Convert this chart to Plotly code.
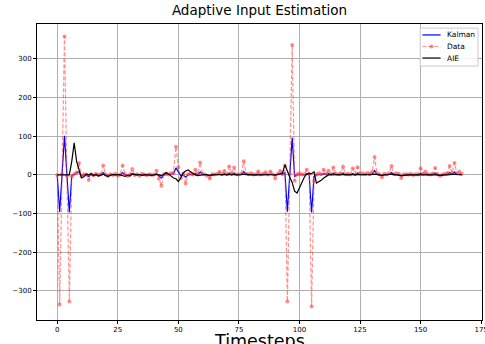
import plotly.graph_objects as go

timesteps = list(range(168))

data_vals = [
    0, -335, 3, 358, -2, -327, -4, 2, 6, 31,
    -3, 2, 1, -13, 2, -1, 3, 0, 2, 24,
    1, -3, 2, 0, 3, -2, 1, 24, 2, -3,
    1, 15, 0, 2, -2, 3, 1, -1, 2, 0,
    1, 11, -10, -28, 2, 3, 1, 4, 5, 73,
    20, -8, 3, -22, 2, 4, 1, 13, 2, 32,
    3, 1, -2, -9, 2, 1, 3, 8, 2, 10,
    2, 22, 3, 19, 2, 1, 3, 35, 3, 2,
    4, 1, 2, 9, 1, 3, 7, 1, 9, 2,
    -9, 3, 10, 2, 24, -327, 3, 336, -15, 2,
    4, 1, 2, 13, 3, -340, -16, 2, 4, 2,
    13, 3, 11, 2, 19, 3, 2, 4, 22, 2,
    3, 1, 17, 2, 20, 3, 4, 2, 5, 3,
    8, 46, 4, 2, -6, 3, 1, 4, 23, 2,
    4, 3, -8, 1, 2, 1, 3, 0, 2, 1,
    17, 3, 9, 2, 1, 3, 18, 2, -3, 1,
    3, 4, 23, 5, 31, 4, 9, 3,
]

kalman_vals = [
    0, -96, 2, 101, 0, -97, -2, 1, 3, 8,
    -1, 0, 0, -4, 1, 0, 1, 0, 0, 6,
    0, -1, 0, 0, 1, 0, 0, 6, 0, -1,
    0, 4, 0, 0, 0, 1, 0, 0, 0, 0,
    0, 3, -3, -8, 0, 1, 0, 1, 3, 18,
    8, -2, 0, -6, 0, 1, 0, 4, 0, 8,
    1, 0, 0, -2, 0, 0, 1, 2, 0, 3,
    0, 5, 1, 5, 0, 0, 1, 9, 1, 0,
    1, 0, 0, 2, 0, 1, 2, 0, 2, 0,
    -2, 1, 3, 1, 6, -95, 1, 96, -4, 0,
    1, 0, 0, 3, 1, -97, -4, 0, 1, 0,
    3, 1, 3, 0, 5, 1, 0, 1, 5, 0,
    1, 0, 4, 0, 5, 1, 1, 0, 1, 1,
    2, 11, 1, 0, -2, 1, 0, 1, 6, 0,
    1, 1, -2, 0, 0, 0, 0, 0, 0, 0,
    4, 1, 2, 0, 0, 1, 5, 0, -1, 0,
    1, 1, 6, 1, 8, 1, 2, 1,
]

aie_vals = [
    0, 0, 0, 0, 0, 0, 35, 83, 35, 15,
    -8, -5, 2, 0, 3, -2, 1, -3, 0, 2,
    -2, -4, -1, 1, 0, 1, 0, -2, -4, -1,
    -3, 2, 1, 0, 1, -1, 0, 1, 0, -1,
    0, 1, 0, -2, 1, 6, 2, -3, -8, -10,
    -17, -8, 5, 10, 13, 8, 3, 0, -2, -1,
    0, 1, 0, -2, 0, 1, 0, 1, 0, 1,
    0, 1, 0, 1, 0, 0, 1, 2, 1, 0,
    0, 0, 1, 0, 0, 0, 1, 0, 0, 0,
    0, 1, 3, 5, 26, 8, -6, -20, -42, -47,
    -33, -18, -6, 2, 4, 3, 8, -21, -18, -14,
    -8, -3, 0, 1, 0, 1, 0, 0, 1, 0,
    0, 1, 0, 0, 1, 0, 0, 1, 0, 0,
    1, 2, 1, 0, -1, 0, 0, 1, 2, 1,
    0, 0, -2, -1, 0, 0, 0, 0, 0, 0,
    1, 0, 1, 0, 0, 0, 1, 0, -1, 0,
    0, 0, 1, 1, 2, 1, 0, 0,
]

series_names = ["Kalman", "Data", "AIE"]
x_ticks = [0, 25, 50, 75, 100, 125, 150, 175]
y_ticks = [-300, -200, -100, 0, 100, 200, 300]

KALMAN_C = "#0000ff"
DATA_C = "rgba(255,70,70,0.6)"
AIE_C = "#000000"

fig = go.Figure()
fig.add_trace(go.Scatter(x=timesteps, y=kalman_vals, mode="lines", name=series_names[0],
                         line=dict(color=KALMAN_C, width=1.2), showlegend=False))
fig.add_trace(go.Scatter(x=timesteps, y=data_vals, mode="lines+markers", name=series_names[1],
                         line=dict(color=DATA_C, width=1.2, dash="4px,2px"),
                         marker=dict(color=DATA_C, size=4), showlegend=False))
fig.add_trace(go.Scatter(x=timesteps, y=aie_vals, mode="lines", name=series_names[2],
                         line=dict(color=AIE_C, width=1.2), showlegend=False))

# custom compact legend (matplotlib-like), in paper coordinates
shapes = [dict(type="rect", xref="paper", yref="paper", x0=0.861, x1=0.991,
               y0=0.858, y1=0.986, line=dict(color="#cccccc", width=1),
               fillcolor="rgba(255,255,255,0.85)", layer="above")]
row_y = [0.963, 0.924, 0.885]
row_styles = [dict(color=KALMAN_C, width=1.2),
              dict(color=DATA_C, width=1.2, dash="4px,2px"),
              dict(color=AIE_C, width=1.2)]
annotations = []
for name, ry, st in zip(series_names, row_y, row_styles):
    shapes.append(dict(type="line", xref="paper", yref="paper", x0=0.866, x1=0.907,
                       y0=ry, y1=ry, line=st, layer="above"))
    annotations.append(dict(text=name, xref="paper", yref="paper", x=0.916, y=ry,
                            xanchor="left", yanchor="middle", showarrow=False,
                            font=dict(size=7.5, family="DejaVu Sans", color="#000000")))
shapes.append(dict(type="circle", xref="paper", yref="paper", x0=0.882, x1=0.891,
                   y0=row_y[1] - 0.0068, y1=row_y[1] + 0.0068,
                   fillcolor=DATA_C, line=dict(width=0), layer="above"))

annotations.append(dict(text="Timesteps", xref="paper", yref="paper", x=0.5, y=-0.07,
                        xanchor="center", yanchor="middle", showarrow=False,
                        font=dict(size=17.5, family="DejaVu Sans", color="black")))

fig.update_layout(
    width=485, height=344, autosize=False,
    margin=dict(l=37, r=3, t=24, b=24, autoexpand=False),
    paper_bgcolor="white", plot_bgcolor="white",
    font=dict(family="DejaVu Sans", color="#000000"),
    title=dict(text="Adaptive Input Estimation", x=0.535, xanchor="center",
               y=0.985, yanchor="top", font=dict(size=13.5, family="DejaVu Sans")),
    showlegend=False,
    xaxis=dict(range=[-8.35, 175.35], tickvals=x_ticks, showgrid=True,
               gridcolor="#b0b0b0", gridwidth=1, zeroline=False, automargin=False,
               showline=True, linecolor="black", linewidth=1, mirror=True,
               ticks="outside", ticklen=3, tickcolor="black",
               ticklabeloverflow="allow",
               tickfont=dict(size=7, family="DejaVu Sans")),
    yaxis=dict(range=[-375, 390], tickvals=y_ticks, showgrid=True,
               gridcolor="#b0b0b0", gridwidth=1, zeroline=False, automargin=False,
               showline=True, linecolor="black", linewidth=1, mirror=True,
               ticks="outside", ticklen=3, tickcolor="black",
               tickfont=dict(size=7, family="DejaVu Sans")),
    shapes=shapes,
    annotations=annotations,
)

fig.write_html("out.html", config={"displayModeBar": False},
               post_script="document.body.style.margin='0';document.body.style.padding='0';")
